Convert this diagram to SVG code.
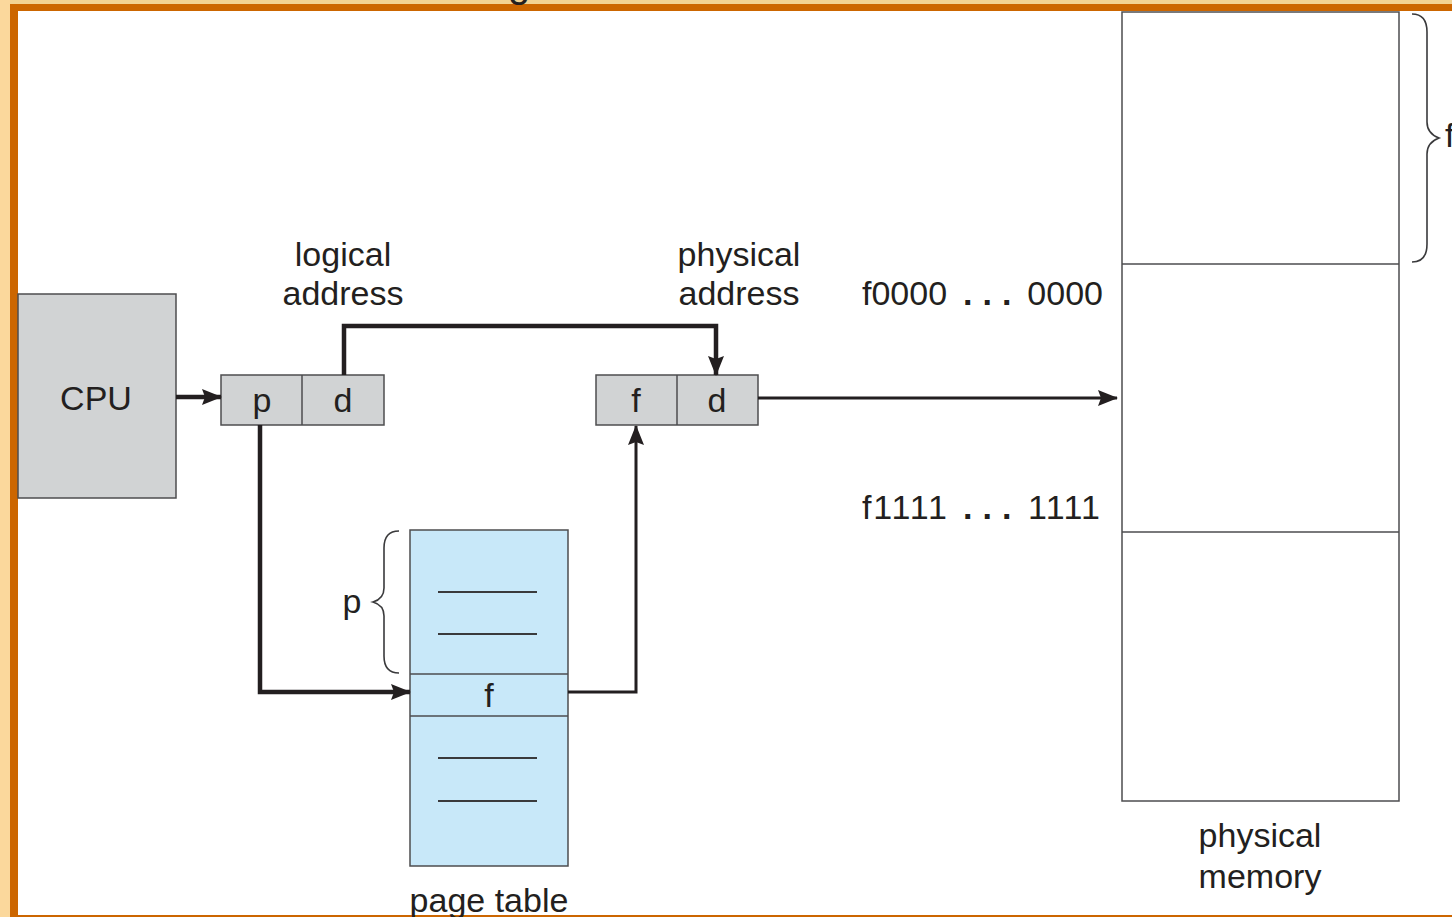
<svg xmlns="http://www.w3.org/2000/svg" width="1452" height="917" viewBox="0 0 1452 917">
  <defs>
    <marker id="arrow" viewBox="0 0 20 16" refX="19" refY="8" markerWidth="20" markerHeight="16" markerUnits="userSpaceOnUse" orient="auto">
      <path d="M0,0 L20,8 L0,16 L3,8 Z" fill="#231f20"/>
    </marker>
    <style>
      text { font-family: "Liberation Sans", Arial, sans-serif; font-size: 34px; fill: #231f20; }
      .mid { text-anchor: middle; }
      .box { stroke: #4d4d4f; stroke-width: 1.5; }
      .gray { fill: #d1d3d4; }
      .blue { fill: #c8e8f9; }
      .rule { stroke: #3a3a3c; stroke-width: 2; fill: none; }
      .wire { stroke: #231f20; stroke-width: 4.5; fill: none; }
      .brace { stroke: #3a3a3c; stroke-width: 1.6; fill: none; }
      .dots { font-weight: bold; letter-spacing: 10px; }
    </style>
  </defs>

  <!-- page background and frame -->
  <rect x="0" y="0" width="1452" height="917" fill="#ffffff"/>
  <rect x="0" y="0" width="1452" height="5" fill="#f2d293"/>
  <rect x="0" y="0" width="10" height="917" fill="#fbd89c"/>
  <rect x="10" y="4" width="1442" height="7" fill="#cc6600"/>
  <rect x="10" y="4" width="8" height="913" fill="#cc6600"/>
  <rect x="10" y="915" width="1442" height="2" fill="#cc6600"/>
  <text x="508" y="-3" style="font-size:40px">g</text>

  <!-- CPU -->
  <g id="cpu">
    <rect class="box gray" x="18" y="294" width="158" height="204"/>
    <text class="mid" x="96" y="410">CPU</text>
  </g>

  <!-- logical address register -->
  <g id="logical-address">
    <rect class="box gray" x="221" y="375" width="163" height="50"/>
    <line class="box" x1="302" y1="375" x2="302" y2="425"/>
    <text class="mid" x="262" y="412">p</text>
    <text class="mid" x="343" y="412">d</text>
    <text class="mid" x="343" y="266">logical</text>
    <text class="mid" x="343" y="305">address</text>
  </g>

  <!-- physical address register -->
  <g id="physical-address">
    <rect class="box gray" x="596" y="375" width="162" height="50"/>
    <line class="box" x1="677" y1="375" x2="677" y2="425"/>
    <text class="mid" x="636" y="412">f</text>
    <text class="mid" x="717" y="412">d</text>
    <text class="mid" x="739" y="266">physical</text>
    <text class="mid" x="739" y="305">address</text>
  </g>

  <!-- page table -->
  <g id="page-table">
    <rect class="box blue" x="410" y="530" width="158" height="336"/>
    <line class="box" x1="410" y1="674" x2="568" y2="674"/>
    <line class="box" x1="410" y1="716" x2="568" y2="716"/>
    <line class="rule" x1="438" y1="592" x2="537" y2="592"/>
    <line class="rule" x1="438" y1="634" x2="537" y2="634"/>
    <line class="rule" x1="438" y1="758" x2="537" y2="758"/>
    <line class="rule" x1="438" y1="801" x2="537" y2="801"/>
    <text class="mid" x="489" y="707">f</text>
    <path class="brace" d="M399,531 C388,531 384,538 384,548 L384,588 C384,596 380,600 373,602 C380,604 384,608 384,616 L384,656 C384,666 388,673 399,673"/>
    <text class="mid" x="352" y="613">p</text>
    <text class="mid" x="489" y="912">page table</text>
  </g>

  <!-- physical memory -->
  <g id="physical-memory">
    <rect class="box" fill="#ffffff" x="1122" y="12" width="277" height="789"/>
    <line class="box" x1="1122" y1="264" x2="1399" y2="264"/>
    <line class="box" x1="1122" y1="532" x2="1399" y2="532"/>
    <path class="brace" d="M1412,14 C1422,14 1427,20 1427,32 L1427,122 C1427,130 1431,135 1439,138 C1431,141 1427,146 1427,154 L1427,244 C1427,256 1422,262 1412,262"/>
    <text x="1445" y="147">f</text>
    <text x="862" y="305">f0000</text>
    <text class="dots" x="963" y="305">...</text>
    <text x="1103" y="305" style="text-anchor:end">0000</text>
    <text x="862" y="519" textLength="85" lengthAdjust="spacing">f1111</text>
    <text class="dots" x="963" y="519">...</text>
    <text x="1028" y="519" textLength="72" lengthAdjust="spacing">1111</text>
    <text class="mid" x="1260" y="847">physical</text>
    <text class="mid" x="1260" y="888">memory</text>
  </g>

  <!-- connectors -->
  <g id="connectors">
    <line class="wire" x1="176" y1="397" x2="221" y2="397" marker-end="url(#arrow)"/>
    <polyline class="wire" points="344,375 344,326 716,326 716,375" marker-end="url(#arrow)"/>
    <polyline class="wire" points="260,425 260,692 410,692" marker-end="url(#arrow)"/>
    <polyline class="wire" style="stroke-width:3" points="568,692 636,692 636,426" marker-end="url(#arrow)"/>
    <line class="wire" style="stroke-width:3" x1="758" y1="398" x2="1117" y2="398" marker-end="url(#arrow)"/>
  </g>
</svg>
